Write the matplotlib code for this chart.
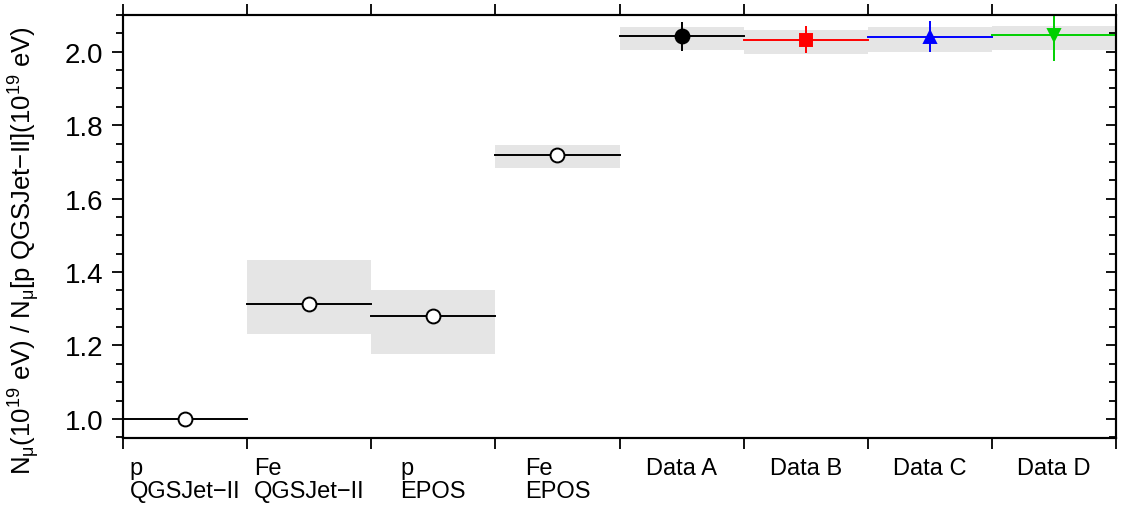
import matplotlib
matplotlib.use("Agg")
import matplotlib.pyplot as plt
import numpy as np
from matplotlib.ticker import MultipleLocator

plt.rcParams['font.family'] = ['Liberation Sans', 'DejaVu Sans']
plt.rcParams['mathtext.fontset'] = 'custom'
plt.rcParams['mathtext.rm'] = 'Liberation Sans'
plt.rcParams['mathtext.it'] = 'Liberation Sans'

# Categories (primary / hadronic model, or data set)
labels = ["p\nQGSJet\u2212II", "Fe\nQGSJet\u2212II", "p\nEPOS", "Fe\nEPOS",
          "Data A", "Data B", "Data C", "Data D"]

# Central values of the muon number ratio
values = [1.000, 1.314, 1.281, 1.718, 2.043, 2.033, 2.041, 2.046]

# Systematic band (lower, upper)
band_lo = [1.000, 1.230, 1.177, 1.682, 2.004, 1.993, 2.000, 2.006]
band_hi = [1.000, 1.433, 1.350, 1.747, 2.068, 2.058, 2.066, 2.071]

# Statistical error bars for the data sets (lower, upper)
err_lo = [0, 0, 0, 0, 0.040, 0.036, 0.043, 0.071]
err_hi = [0, 0, 0, 0, 0.037, 0.036, 0.042, 0.060]

colors = ["black", "black", "black", "black", "black", "#ff0000", "#0000ff", "#00d000"]
markers = ["o", "o", "o", "o", "o", "s", "^", "v"]
filled = [False, False, False, False, True, True, True, True]

fig = plt.figure(figsize=(11.23, 5.06), dpi=100)
ax = fig.add_axes([0.1095, 0.1324, 0.8843, 0.836])

x = np.arange(len(labels))

# grey systematic bands
for i in x:
    if band_hi[i] > band_lo[i]:
        ax.bar(i, band_hi[i] - band_lo[i], bottom=band_lo[i], width=1.0,
               color="#e5e5e5", linewidth=0, zorder=1)

# horizontal lines, error bars and markers
for i in x:
    c = colors[i]
    ax.plot([i - 0.5, i + 0.5], [values[i], values[i]], color=c, lw=1.4, zorder=2)
    if err_lo[i] > 0 or err_hi[i] > 0:
        ax.errorbar(i, values[i], yerr=[[err_lo[i]], [err_hi[i]]], fmt="none",
                    ecolor=c, elinewidth=1.4, capsize=0, zorder=3)
    ms = 10 if markers[i] == "o" else 9
    ax.plot(i, values[i], marker=markers[i], ms=ms,
            mfc=c if filled[i] else "white", mec=c, mew=1.4, zorder=4,
            linestyle="none")

ax.set_xlim(-0.5, len(labels) - 0.5)
ax.set_ylim(0.948, 2.10)

# category boundaries as ticks top and bottom
ax.set_xticks(np.arange(-0.5, len(labels) + 0.5, 1.0))
ax.set_xticklabels([])
ax.tick_params(axis="x", which="both", direction="out", top=True, bottom=True,
               length=8, width=1.3)

ax.yaxis.set_major_locator(MultipleLocator(0.2))
ax.yaxis.set_minor_locator(MultipleLocator(0.05))
ax.yaxis.set_major_formatter(matplotlib.ticker.FormatStrFormatter("%.1f"))
ax.tick_params(axis="y", which="major", direction="out", length=8, width=1.3,
               labelsize=20, pad=6)
ax.tick_params(axis="y", which="minor", direction="out", length=5, width=1.3)

# inward ticks along the right edge
ax2 = ax.twinx()
ax2.set_ylim(ax.get_ylim())
ax2.yaxis.set_major_locator(MultipleLocator(0.2))
ax2.yaxis.set_minor_locator(MultipleLocator(0.05))
ax2.tick_params(axis="y", which="both", direction="in", length=7, width=1.3,
                labelright=False)
ax2.tick_params(axis="y", which="minor", length=5)

for a in (ax, ax2):
    for s in a.spines.values():
        s.set_linewidth(1.5)

# category labels below the axis
for i, lab in zip(x, labels):
    ax.text(i, -0.045, lab, transform=ax.get_xaxis_transform(), ha="center",
            va="top", multialignment="left", fontsize=17, linespacing=1.05)

ax.set_ylabel("N$_{\\mathregular{\u03bc}}$(10$^{19}$ eV) / "
              "N$_{\\mathregular{\u03bc}}$[p QGSJet\u2212II](10$^{19}$ eV)",
              fontsize=18.5)
ax.yaxis.set_label_coords(-0.082, 0.445)

fig.savefig("out.png", dpi=100)
